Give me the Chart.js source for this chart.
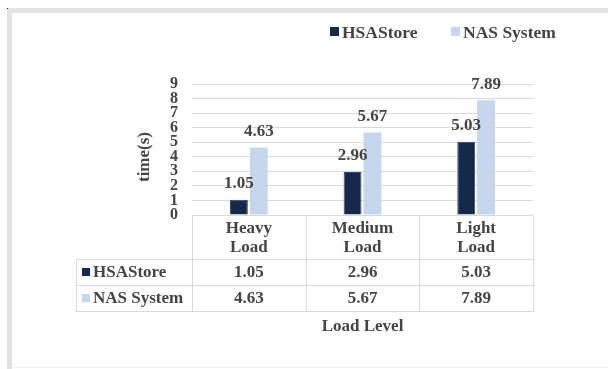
<!DOCTYPE html>
<html>
<head>
<meta charset="utf-8">
<script src="https://cdn.jsdelivr.net/npm/chart.js@4"></script>
<style>
  body { margin: 0; background: #fff; }
  canvas { display: block; }
</style>
</head>
<body>
<canvas id="bars" width="608" height="369"></canvas>
<script>
var categories = [['Heavy', 'Load'], ['Medium', 'Load'], ['Light', 'Load']];
var seriesNames = ['HSAStore', 'NAS System'];
var hsaStore = [1.05, 2.96, 5.03];
var nasSystem = [4.63, 5.67, 7.89];
var yTicks = [0, 1, 2, 3, 4, 5, 6, 7, 8, 9];

var darkBlue = '#16294a';
var lightBlue = '#c6d6ec';
var textColor = '#444';
var lineColor = '#d9d9d9';
var serif = "'Liberation Serif', 'Times New Roman', serif";

// frame, data labels, data table, legend and axis titles
var extras = {
    id: 'extras',
    beforeDraw: function(chart) {
        var c = chart.ctx;
        c.save();
        c.fillStyle = '#fff';
        c.fillRect(0, 0, chart.width, chart.height);
        c.fillStyle = '#e3e3e3';
        c.fillRect(7, 8, chart.width - 7, 5);
        c.fillRect(7, 8, 5, chart.height - 8);
        c.fillStyle = '#f0f0f0';
        c.fillRect(12, 367, chart.width - 12, 1);
        c.fillStyle = '#222';
        c.fillRect(7, 8, 1, 1);
        c.restore();
    },
    afterDraw: function(chart) {
        var c = chart.ctx;
        var x = chart.scales.x;
        var area = chart.chartArea;
        var n = categories.length;
        var colW = (area.right - area.left) / n;
        var rows = [area.bottom, 259, 285, 311];
        var headLeft = 76;
        c.save();

        // value labels above bars
        c.font = 'bold 17px ' + serif;
        c.fillStyle = textColor;
        c.textAlign = 'center';
        c.textBaseline = 'middle';
        chart.data.datasets.forEach(function(ds, i) {
            chart.getDatasetMeta(i).data.forEach(function(bar, j) {
                c.fillText(ds.data[j].toFixed(2), bar.x, bar.y - 16);
            });
        });

        // data table grid
        c.strokeStyle = lineColor;
        c.lineWidth = 1;
        c.beginPath();
        for (var k = 0; k <= n; k++) {
            var lx = Math.round(area.left + k * colW) + 0.5;
            c.moveTo(lx, rows[0]);
            c.lineTo(lx, rows[3]);
        }
        c.moveTo(headLeft + 0.5, rows[1]);
        c.lineTo(headLeft + 0.5, rows[3]);
        for (var r = 1; r < rows.length; r++) {
            c.moveTo(headLeft, rows[r] + 0.5);
            c.lineTo(area.right + 1, rows[r] + 0.5);
        }
        c.stroke();

        // category headers
        c.font = 'bold 17px ' + serif;
        categories.forEach(function(lbl, j) {
            var cx = x.getPixelForValue(j);
            c.fillText(lbl[0], cx, 229);
            c.fillText(lbl[1], cx, 248);
        });

        // table rows
        var rowData = [hsaStore, nasSystem];
        var rowColors = [darkBlue, lightBlue];
        rowData.forEach(function(vals, r) {
            var cy = (rows[r + 1] + rows[r + 2]) / 2 + 1;
            c.fillStyle = rowColors[r];
            c.fillRect(82, cy - 5, 8, 8);
            c.fillStyle = textColor;
            c.textAlign = 'left';
            c.fillText(seriesNames[r], 93, cy);
            c.textAlign = 'center';
            vals.forEach(function(v, j) {
                c.fillText(v.toFixed(2), x.getPixelForValue(j), cy);
            });
        });

        // axis titles
        c.font = 'bold 17px ' + serif;
        c.fillText('Load Level', (area.left + area.right) / 2, 327);
        c.save();
        c.translate(145, 157);
        c.rotate(-Math.PI / 2);
        c.fillText('time(s)', 0, 0);
        c.restore();

        // legend
        c.font = 'bold 17.5px ' + serif;
        c.textAlign = 'left';
        c.fillStyle = darkBlue;
        c.fillRect(330, 27, 9, 9);
        c.fillStyle = lightBlue;
        c.fillRect(451, 27, 9, 9);
        c.fillStyle = textColor;
        c.fillText(seriesNames[0], 342, 33);
        c.fillText(seriesNames[1], 463, 33);

        c.restore();
    }
};

var ctx = document.getElementById('bars').getContext('2d');
var myChart = new Chart(ctx, {
    type: 'bar',
    data: {
        labels: categories,
        datasets: [{
            label: seriesNames[0],
            data: hsaStore,
            backgroundColor: darkBlue,
            borderColor: '#2b4a7a',
            borderWidth: 1,
            categoryPercentage: 0.35,
            barPercentage: 0.9
        }, {
            label: seriesNames[1],
            data: nasSystem,
            backgroundColor: lightBlue,
            borderWidth: 0,
            categoryPercentage: 0.35,
            barPercentage: 0.9
        }]
    },
    options: {
        responsive: false,
        animation: false,
        layout: {
            padding: { left: 150, right: 75, top: 84, bottom: 154 }
        },
        plugins: {
            legend: { display: false },
            tooltip: { enabled: false }
        },
        scales: {
            x: {
                display: false
            },
            y: {
                min: 0,
                max: 9,
                afterFit: function(scale) { scale.width = 42; },
                afterBuildTicks: function(scale) {
                    scale.ticks = yTicks.map(function(v) { return { value: v }; });
                },
                border: { display: false },
                grid: { color: lineColor, drawTicks: false },
                ticks: {
                    autoSkip: false,
                    padding: 14,
                    color: textColor,
                    font: { family: serif, size: 16, weight: 'bold', lineHeight: 1 }
                }
            }
        }
    },
    plugins: [extras]
});
</script>
</body>
</html>
